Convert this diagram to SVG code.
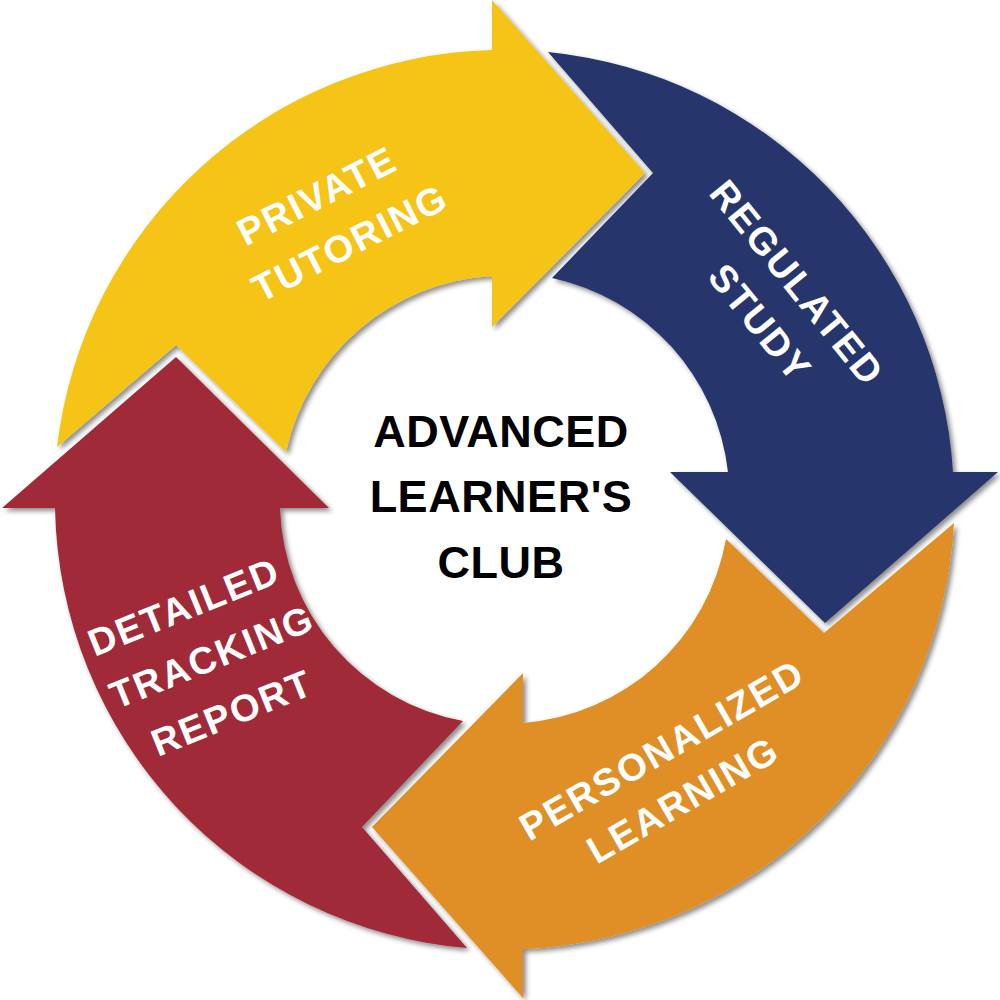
<svg xmlns="http://www.w3.org/2000/svg" width="1000" height="1000" viewBox="0 0 1000 1000">
  <defs>
    <filter id="shadow" x="-10%" y="-10%" width="120%" height="120%">
      <feDropShadow dx="3" dy="3" stdDeviation="2.5" flood-color="#000000" flood-opacity="0.45"/>
    </filter>
    <style>
      .seg { filter: url(#shadow); }
      .lbl { font-family: "Liberation Sans", Arial, sans-serif; font-weight: 700; font-size: 38px; fill: #ffffff; text-anchor: middle; letter-spacing: 2px; }
      .ctr { font-family: "Liberation Sans", Arial, sans-serif; font-weight: 700; font-size: 45px; fill: #000000; text-anchor: middle; letter-spacing: 0.5px; }
    </style>
  </defs>
  <rect width="1000" height="1000" fill="#ffffff"/>

  <g id="private-tutoring">
    <path class="seg" fill="#F6C415" d="M 57,447 A 450 450 0 0 1 492,50 L 492,0 L 645,173 L 492,327 L 492,276 A 224 224 0 0 0 286,452 L 176,345 Z"/>
    <text class="lbl" transform="translate(317,196) rotate(-27)" y="13">PRIVATE</text>
    <text class="lbl" transform="translate(350,243) rotate(-27)" y="13">TUTORING</text>
  </g>

  <g id="regulated-study">
    <path class="seg" fill="#28366C" d="M 548,52 A 450 450 0 0 1 953,472 L 998,472 L 825,623 L 670,472 L 728,472 A 224 224 0 0 0 552,278 L 653,173 Z"/>
    <text class="lbl" transform="translate(797,283) rotate(51)" y="13">REGULATED</text>
    <text class="lbl" transform="translate(760,323) rotate(51)" y="13">STUDY</text>
  </g>

  <g id="personalized-learning">
    <path class="seg" fill="#E08F28" d="M 954,523 A 450 450 0 0 1 523,949 L 523,998 L 372,827 L 523,673 L 523,723 A 224 224 0 0 0 726,539 L 824,633 Z"/>
    <text class="lbl" transform="translate(662,750) rotate(-30)" y="13">PERSONALIZED</text>
    <text class="lbl" transform="translate(683,800) rotate(-30)" y="13">LEARNING</text>
  </g>

  <g id="detailed-tracking-report">
    <path class="seg" fill="#A12C38" d="M 467,948 A 450 450 0 0 1 55,508 L 2,508 L 176,357 L 329,508 L 280,508 A 224 224 0 0 0 463,721 L 362,827 Z"/>
    <text class="lbl" transform="translate(184,607) rotate(-22)" y="13">DETAILED</text>
    <text class="lbl" transform="translate(212,657) rotate(-22)" y="13">TRACKING</text>
    <text class="lbl" transform="translate(232,713) rotate(-22)" y="13">REPORT</text>
  </g>

  <g id="center">
    <text class="ctr" x="501" y="447">ADVANCED</text>
    <text class="ctr" x="501" y="512">LEARNER'S</text>
    <text class="ctr" x="501" y="578">CLUB</text>
  </g>
</svg>
